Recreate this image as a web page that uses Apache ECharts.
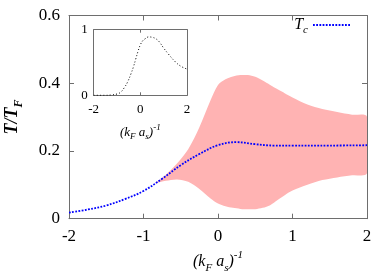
<!DOCTYPE html>
<html><head><meta charset="utf-8">
<script src="https://cdn.jsdelivr.net/npm/echarts@6/dist/echarts.min.js"></script>
<style>html,body{margin:0;padding:0;background:#fff}#c{width:390px;height:273px}</style>
</head><body><div id="c"></div>
<script>
// ---- data ----
const tcX = [-2, -1.75, -1.5, -1.25, -1.0, -0.75, -0.5, -0.25, 0, 0.25, 0.5, 0.75, 1.0, 1.5, 2.0];
const tcY = [0.018, 0.027, 0.039, 0.058, 0.082, 0.118, 0.158, 0.191, 0.217, 0.226, 0.220, 0.216, 0.216, 0.216, 0.217];

const bandX = [-0.85, -0.7, -0.55, -0.4, -0.25, -0.1, 0, 0.1, 0.2, 0.3, 0.4, 0.5, 0.6, 0.7, 0.8, 0.9, 1.0, 1.2, 1.4, 1.6, 1.8, 2.0];
const bandUpper = [0.104, 0.13, 0.163, 0.205, 0.27, 0.35, 0.395, 0.412, 0.42, 0.424, 0.424, 0.419, 0.408, 0.395, 0.382, 0.37, 0.358, 0.337, 0.324, 0.315, 0.307, 0.301];
const bandLower = [0.104, 0.112, 0.116, 0.109, 0.088, 0.06, 0.045, 0.037, 0.032, 0.029, 0.028, 0.028, 0.032, 0.04, 0.055, 0.07, 0.083, 0.10, 0.114, 0.122, 0.128, 0.134];

const insetX = [-2, -1.5, -1.25, -1, -0.85, -0.7, -0.55, -0.4, -0.3, -0.2, -0.1, 0, 0.1, 0.2, 0.35, 0.5, 0.65, 0.8, 1.0, 1.2, 1.5, 1.75, 2];
const insetY = [0, 0, 0.005, 0.02, 0.045, 0.11, 0.2, 0.33, 0.43, 0.55, 0.67, 0.77, 0.83, 0.86, 0.89, 0.885, 0.865, 0.82, 0.72, 0.63, 0.51, 0.44, 0.40];

const mainXTicks = [-2, -1, 0, 1, 2];
const mainYTicks = [0, 0.2, 0.4, 0.6];
const insetXTicks = [-2, 0, 2];
const insetYTicks = [0, 1];

// ---- chart ----
const serif = 'Liberation Serif';
const frame = '#6e6e6e';
const zip = (a, b) => a.map((v, i) => [v, b[i]]);

const richName = (fs, sfs, lh) => ({
  t: {fontFamily: serif, fontStyle: 'italic', fontSize: fs, color: '#000', lineHeight: lh},
  sub: {fontFamily: serif, fontStyle: 'italic', fontSize: sfs, color: '#000', lineHeight: sfs, verticalAlign: 'bottom'},
  sup: {fontFamily: serif, fontStyle: 'italic', fontSize: sfs, color: '#000', lineHeight: sfs, verticalAlign: 'top'}
});
const kfName = '{t|(k}{sub|F}{t| a}{sub|s}{t|)}{sup|-1}';

function valAxis(gi, pos, min, max, interval, opts) {
  return Object.assign({
    type: 'value', gridIndex: gi, position: pos, min: min, max: max, interval: interval,
    splitLine: {show: false},
    axisLine: {show: true, onZero: false, lineStyle: {color: frame, width: 1}},
    axisTick: {show: true, inside: true, length: 5, lineStyle: {color: frame}},
    axisLabel: {show: false}
  }, opts || {});
}

const chart = echarts.init(document.getElementById('c'), null, {renderer: 'canvas'});
chart.setOption({
  animation: false,
  backgroundColor: '#fff',
  grid: [
    {left: 69, right: 23, top: 15.5, bottom: 54.3, containLabel: false, outerBoundsMode: 'none'},
    {left: 93.7, width: 93.3, top: 29.7, height: 65.6, show: true, backgroundColor: '#fff', borderWidth: 0, z: 5, containLabel: false, outerBoundsMode: 'none'}
  ],
  legend: {
    data: ['Tc'], right: 34, top: 12, align: 'right', itemWidth: 37, itemHeight: 10, itemGap: 8,
    itemStyle: {opacity: 0},
    formatter: () => '{t|T}{sub|c}',
    textStyle: {rich: richName(16, 11, 22)}
  },
  xAxis: [
    valAxis(0, 'bottom', -2, 2, 1, {
      axisLabel: {show: true, margin: 9, fontFamily: serif, fontSize: 17, color: '#000',
        formatter: v => mainXTicks.includes(v) ? String(v) : ''},
      name: kfName, nameLocation: 'middle', nameGap: 25,
      nameTextStyle: {rich: richName(16, 11, 24)}
    }),
    valAxis(0, 'top', -2, 2, 1),
    valAxis(1, 'bottom', -2, 2, 2, {
      z: 6,
      axisTick: {show: true, inside: true, length: 3, lineStyle: {color: frame}},
      axisLabel: {show: true, margin: 8, fontFamily: serif, fontSize: 13, color: '#000',
        formatter: v => insetXTicks.includes(v) ? String(v) : ''},
      name: kfName, nameLocation: 'middle', nameGap: 28,
      nameTextStyle: {rich: richName(13, 9, 18)}
    }),
    valAxis(1, 'top', -2, 2, 2, {z: 6, axisTick: {show: true, inside: true, length: 3, lineStyle: {color: frame}}})
  ],
  yAxis: [
    valAxis(0, 'left', 0, 0.6, 0.2, {
      axisLabel: {show: true, margin: 9, fontFamily: serif, fontSize: 17, color: '#000',
        formatter: v => { const t = mainYTicks.find(m => Math.abs(m - v) < 1e-9); return t === undefined ? '' : String(t); }},
      name: '{t|T/T}{sub|F}', nameLocation: 'middle', nameGap: 44, nameRotate: 90,
      nameTextStyle: {rich: {
        t: {fontFamily: serif, fontStyle: 'italic', fontWeight: 'bold', fontSize: 18, color: '#000', lineHeight: 26},
        sub: {fontFamily: serif, fontStyle: 'italic', fontWeight: 'bold', fontSize: 12, color: '#000', lineHeight: 12, verticalAlign: 'bottom'}
      }}
    }),
    valAxis(0, 'right', 0, 0.6, 0.2),
    valAxis(1, 'left', 0, 1, 1, {
      z: 6,
      axisTick: {show: false},
      axisLabel: {show: true, margin: 6, fontFamily: serif, fontSize: 13, color: '#000',
        formatter: v => insetYTicks.includes(v) ? String(v) : ''}
    }),
    valAxis(1, 'right', 0, 1, 1, {z: 6, axisTick: {show: false}})
  ],
  series: [
    {
      name: 'band', type: 'custom', xAxisIndex: 0, yAxisIndex: 0, clip: true, silent: true,
      data: [0], z: 1,
      renderItem: function (params, api) {
        const pts = [];
        for (let i = 0; i < bandX.length; i++) pts.push(api.coord([bandX[i], bandUpper[i]]));
        for (let i = bandX.length - 1; i >= 0; i--) pts.push(api.coord([bandX[i], bandLower[i]]));
        return {type: 'polygon', shape: {points: pts, smooth: 0.3}, style: {fill: '#ffb3b3', stroke: null}};
      }
    },
    {
      name: 'Tc', type: 'line', xAxisIndex: 0, yAxisIndex: 0,
      data: zip(tcX, tcY), symbol: 'none', smooth: 0.4,
      lineStyle: {color: '#0000ff', width: 1.8, type: [1.8, 1.4]},
      itemStyle: {color: '#0000ff'}, z: 3
    },
    {
      name: 'inset', type: 'line', xAxisIndex: 2, yAxisIndex: 2,
      data: zip(insetX, insetY), symbol: 'none', smooth: 0.4,
      lineStyle: {color: '#000', width: 1, type: [1, 2.2]}, z: 7
    }
  ]
});
</script>
</body></html>
